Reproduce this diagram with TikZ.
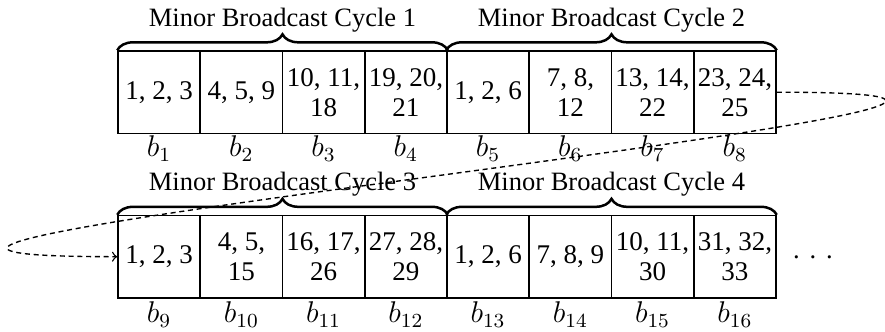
\RequirePackage{fix-cm}
\documentclass[tikz,border=0pt]{standalone}
\usepackage[no-math]{fontspec}
\setmainfont{Liberation Serif}
\usetikzlibrary{decorations.pathreplacing}
\tikzset{
  cell/.style={draw, line width=0.6pt, minimum width=32.9pt, minimum height=32.9pt,
    inner sep=0pt, align=center, font=\fontsize{10.8}{12}\selectfont},
  title/.style={anchor=base, inner sep=0pt, font=\fontsize{10.6}{12}\selectfont},
  blabel/.style={anchor=base, inner sep=0pt, font=\fontsize{12}{14}\selectfont},
  cbrace/.style={decorate, decoration={brace, amplitude=6.4pt}, line width=1pt},
  loopline/.style={dash pattern=on 2pt off 1.5pt, line width=0.55pt, ->},
}
\begin{document}
\begin{tikzpicture}[x=0.4pt,y=-0.4pt]
\useasboundingbox (0,0) rectangle (885,332);
% top row
\node[cell] (b1) at (159.1,92.2) {1, 2, 3};
\node[cell] (b2) at (241.4,92.2) {4, 5, 9};
\node[cell] (b3) at (323.6,92.2) {10, 11,\\18};
\node[cell] (b4) at (405.9,92.2) {19, 20,\\21};
\node[cell] (b5) at (488.1,92.2) {1, 2, 6};
\node[cell] (b6) at (570.4,92.2) {7, 8,\\12};
\node[cell] (b7) at (652.6,92.2) {13, 14,\\22};
\node[cell] (b8) at (734.9,92.2) {23, 24,\\25};
% bottom row
\node[cell] (b9) at (159.1,256.7) {1, 2, 3};
\node[cell] (b10) at (241.4,256.7) {4, 5,\\15};
\node[cell] (b11) at (323.6,256.7) {16, 17,\\26};
\node[cell] (b12) at (405.9,256.7) {27, 28,\\29};
\node[cell] (b13) at (488.1,256.7) {1, 2, 6};
\node[cell] (b14) at (570.4,256.7) {7, 8, 9};
\node[cell] (b15) at (652.6,256.7) {10, 11,\\30};
\node[cell] (b16) at (734.9,256.7) {31, 32,\\33};
\node[title] (dots) at (813,258.5) {.\hspace{3.95pt}.\hspace{3.95pt}.};
% labels
\foreach \i/\x in {1/159.1,2/241.4,3/323.6,4/405.9,5/488.1,6/570.4,7/652.6,8/734.9}{
  \node[blabel] (l\i) at (\x,157) {$b_{\i}$};
}
\foreach \i/\x in {9/159.1,10/241.4,11/323.6,12/405.9,13/488.1,14/570.4,15/652.6,16/734.9}{
  \node[blabel] (l\i) at (\x,322.5) {$b_{\i}$};
}
% braces
\draw[cbrace] (b1.north west) -- (b4.north east);
\draw[cbrace] (b5.north west) -- (b8.north east);
\draw[cbrace] (b9.north west) -- (b12.north east);
\draw[cbrace] (b13.north west) -- (b16.north east);
% titles
\node[title] (c1) at (282.5,26.7) {Minor Broadcast Cycle 1};
\node[title] (c2) at (611.5,26.7) {Minor Broadcast Cycle 2};
\node[title] (c3) at (282.5,190.7) {Minor Broadcast Cycle 3};
\node[title] (c4) at (611.5,190.7) {Minor Broadcast Cycle 4};
% loop connector
\draw[loopline] (b8.east) .. controls +(555,0) and +(-555,0) .. (b9.west);
\end{tikzpicture}
\end{document}
